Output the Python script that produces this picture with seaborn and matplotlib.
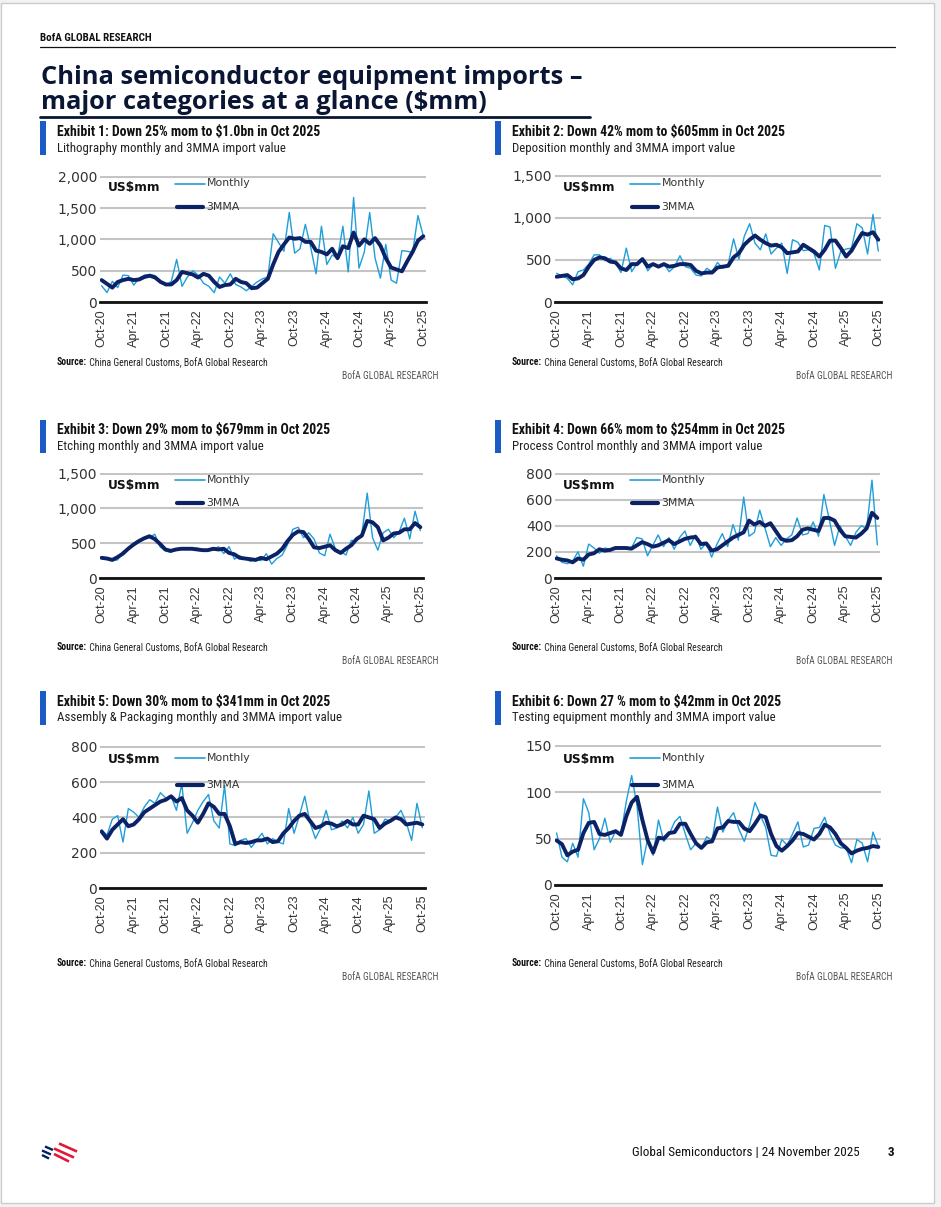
import numpy as np
import pandas as pd
import matplotlib
matplotlib.use("Agg")
import matplotlib.pyplot as plt
import seaborn as sns
from matplotlib import font_manager as fm
from matplotlib.patches import Rectangle
from matplotlib.lines import Line2D

# ---------------- data ----------------
months = [d.strftime("%b-%y") for d in pd.date_range("2020-10-01", periods=61, freq="MS")]
tick_labels = ["Oct-20", "Apr-21", "Oct-21", "Apr-22", "Oct-22", "Apr-23",
               "Oct-23", "Apr-24", "Oct-24", "Apr-25", "Oct-25"]

litho_monthly = [260, 150, 330, 230, 430, 420, 270, 380, 430, 440,
                 420, 330, 260, 330, 680, 250, 400, 500, 430, 300,
                 250, 150, 400, 300, 450, 280, 240, 180, 250, 320,
                 370, 400, 1090, 950, 810, 1430, 780, 850, 1240, 870,
                 450, 1210, 600, 750, 700, 1210, 480, 1670, 540, 800,
                 1430, 700, 380, 920, 350, 300, 820, 810, 790, 1380, 1050]
litho_3mma = [350, 290, 230, 320, 350, 370, 350, 360, 400, 420,
              390, 320, 280, 280, 350, 480, 460, 440, 390, 450,
              420, 320, 240, 270, 280, 370, 320, 300, 220, 230,
              300, 370, 600, 800, 920, 1030, 1010, 1020, 960, 960,
              820, 800, 760, 850, 700, 890, 860, 1110, 900, 1000,
              930, 1020, 900, 700, 550, 520, 490, 650, 800, 980, 1050]

dep_monthly = [340, 310, 280, 205, 360, 380, 450, 560, 560, 490,
               520, 460, 350, 640, 360, 460, 510, 370, 450, 420,
               450, 360, 420, 550, 420, 400, 320, 310, 400, 360,
               470, 400, 450, 750, 510, 780, 930, 700, 620, 810,
               570, 640, 700, 340, 740, 710, 610, 620, 580, 380,
               910, 890, 400, 600, 630, 640, 930, 880, 570, 1040, 605]
dep_3mma = [300, 310, 320, 270, 280, 320, 420, 500, 530, 520,
            480, 470, 400, 380, 450, 450, 510, 420, 450, 420,
            450, 420, 430, 450, 450, 440, 370, 340, 350, 350,
            410, 420, 430, 530, 580, 680, 740, 790, 740, 700,
            670, 680, 650, 580, 590, 600, 680, 640, 600, 540,
            620, 730, 730, 640, 540, 610, 720, 820, 800, 830, 740]

etch_monthly = [280, 280, 250, 260, 380, 420, 460, 520, 570, 580,
                630, 450, 390, 370, 400, 430, 410, 420, 430, 400,
                400, 400, 450, 350, 450, 270, 320, 280, 240, 270,
                250, 350, 200, 280, 330, 480, 700, 730, 580, 650,
                560, 360, 320, 630, 420, 380, 330, 540, 530, 640,
                1220, 580, 400, 650, 700, 580, 660, 860, 560, 960, 679]
etch_3mma = [290, 280, 260, 300, 350, 420, 480, 530, 570, 600,
             560, 490, 410, 390, 410, 420, 420, 420, 410, 400,
             400, 420, 410, 420, 360, 340, 290, 280, 270, 260,
             290, 270, 310, 350, 420, 530, 620, 670, 660, 560,
             440, 430, 450, 470, 400, 360, 420, 470, 560, 610,
             820, 800, 730, 540, 580, 640, 650, 700, 700, 790, 730]

pc_monthly = [170, 120, 110, 130, 200, 90, 260, 230, 190, 230,
              220, 230, 240, 230, 230, 310, 300, 170, 250, 330,
              240, 310, 220, 310, 360, 250, 330, 220, 270, 160,
              260, 340, 240, 410, 290, 620, 320, 350, 520, 380,
              240, 310, 250, 300, 330, 460, 330, 340, 430, 320,
              640, 450, 250, 400, 320, 250, 350, 400, 380, 750, 254]
pc_3mma = [150, 140, 135, 120, 150, 140, 180, 190, 220, 210,
           215, 230, 230, 230, 225, 250, 275, 260, 240, 250,
           270, 290, 260, 280, 300, 310, 315, 260, 265, 210,
           220, 250, 280, 310, 330, 350, 440, 410, 430, 400,
           420, 360, 300, 285, 290, 320, 370, 380, 370, 360,
           460, 460, 440, 370, 320, 315, 310, 340, 380, 500, 460]

ap_monthly = [330, 300, 390, 410, 260, 450, 430, 400, 460, 500,
              480, 540, 510, 520, 440, 590, 310, 370, 440, 490,
              530, 380, 340, 580, 250, 240, 270, 280, 230, 270,
              310, 250, 280, 260, 250, 450, 310, 410, 520, 370,
              280, 340, 440, 330, 340, 380, 340, 400, 310, 360,
              550, 310, 330, 390, 380, 400, 440, 370, 270, 480, 341]
ap_3mma = [320, 280, 330, 360, 390, 350, 360, 390, 430, 450,
           470, 490, 500, 520, 490, 510, 440, 410, 370, 420,
           480, 460, 420, 420, 350, 250, 260, 255, 260, 270,
           270, 280, 260, 265, 310, 340, 380, 410, 420, 380,
           340, 350, 370, 365, 350, 360, 380, 360, 360, 410,
           400, 390, 340, 365, 380, 400, 390, 360, 365, 370, 360]

test_monthly = [56, 30, 25, 45, 30, 93, 78, 38, 50, 72,
                46, 58, 55, 90, 118, 85, 22, 50, 32, 70,
                47, 55, 68, 74, 55, 38, 45, 40, 52, 48,
                84, 57, 70, 78, 60, 47, 65, 89, 75, 62,
                32, 31, 49, 43, 55, 68, 41, 43, 61, 62,
                73, 55, 43, 40, 40, 24, 49, 45, 25, 57, 42]
test_3mma = [48, 44, 32, 36, 38, 56, 67, 68, 55, 54,
             56, 58, 54, 74, 89, 95, 70, 48, 35, 51,
             50, 56, 57, 66, 66, 55, 45, 40, 46, 47,
             61, 62, 69, 68, 68, 61, 58, 66, 75, 73,
             55, 42, 37, 42, 48, 56, 55, 52, 49, 55,
             65, 62, 55, 45, 40, 34, 37, 39, 40, 42, 41]

exhibit_titles = ["Exhibit 1: Down 25% mom to $1.0bn in Oct 2025",
                  "Exhibit 2: Down 42% mom to $605mm in Oct 2025",
                  "Exhibit 3: Down 29% mom to $679mm in Oct 2025",
                  "Exhibit 4: Down 66% mom to $254mm in Oct 2025",
                  "Exhibit 5: Down 30% mom to $341mm in Oct 2025",
                  "Exhibit 6: Down 27 % mom to $42mm in Oct 2025"]
exhibit_subs = ["Lithography monthly and 3MMA import value",
                "Deposition monthly and 3MMA import value",
                "Etching monthly and 3MMA import value",
                "Process Control monthly and 3MMA import value",
                "Assembly & Packaging monthly and 3MMA import value",
                "Testing equipment monthly and 3MMA import value"]
y_max = [2000, 1500, 1500, 800, 800, 150]
y_step = [500, 500, 500, 200, 200, 50]
series_monthly = [litho_monthly, dep_monthly, etch_monthly, pc_monthly, ap_monthly, test_monthly]
series_3mma = [litho_3mma, dep_3mma, etch_3mma, pc_3mma, ap_3mma, test_3mma]

# ---------------- style ----------------
sns.set_theme(style="white")
names = {f.name for f in fm.fontManager.ttflist}
narrow_name = next((n for n in ["Liberation Sans Narrow", "DejaVu Sans Condensed",
                                "Roboto Condensed", "Open Sans Condensed"] if n in names), None)
if narrow_name:
    NAR = dict(family=narrow_name)
else:
    NAR = dict(family="DejaVu Sans", stretch="condensed")
TITLE_FAMILY = "Open Sans" if "Open Sans" in names else "DejaVu Sans"
plt.rcParams["font.family"] = ["DejaVu Sans"]

W, H = 941, 1207
fig = plt.figure(figsize=(W / 100, H / 100), dpi=100, facecolor="#f2f2f2")
R = fig.canvas.get_renderer()


def fx(x):
    return x / W


def fy(y):
    return 1 - y / H


def txt(x, y, s, **kw):
    kw.setdefault("va", "center")
    return fig.text(fx(x), fy(y), s, **kw)


def fit(t, width):
    w = t.get_window_extent(R).width
    t.set_fontsize(t.get_fontsize() * width / w)
    return t.get_fontsize()


def seg(x0, y0, x1, y1, **kw):
    fig.add_artist(Line2D([fx(x0), fx(x1)], [fy(y0), fy(y1)], transform=fig.transFigure, **kw))


def hline(x0, x1, y, **kw):
    seg(x0, y, x1, y, **kw)


# page
fig.add_artist(Rectangle((fx(1), fy(1203)), (934 - 1) / W, (1203 - 3) / H, transform=fig.transFigure,
                         facecolor="white", edgecolor="#cccccc", lw=1.0, zorder=-10))

# header
t = txt(40, 38, "BofA GLOBAL RESEARCH", fontweight="bold", color="#111111", fontsize=6, **NAR)
fit(t, 112)
hline(40, 895, 47, color="#111111", lw=0.9)
TITLE_C = "#0a1633"
t1 = txt(41, 84.5, "China semiconductor equipment imports \u2013", fontweight="bold", color=TITLE_C,
         fontsize=17, family=TITLE_FAMILY, va="baseline")
s = fit(t1, 542)
txt(41, 109, "major categories at a glance ($mm)", fontweight="bold", color=TITLE_C, fontsize=s,
    family=TITLE_FAMILY, va="baseline")
hline(40, 590, 117, color=TITLE_C, lw=2.0)

# panel geometry
col_dx = [0, 455]
rows = [
    dict(bar=(121, 155), title=131.5, sub=148.5, ax=[(176, 302), (175, 302)], usmm=188, mon=183.5, mma=207,
         src=362.5, bofa=376),
    dict(bar=(420, 453), title=430.5, sub=446.5, ax=[(473, 578), (473, 578)], usmm=485, mon=480.5, mma=502.5,
         src=647.5, bofa=661),
    dict(bar=(691, 725), title=701.5, sub=718, ax=[(746, 888), (745, 885)], usmm=760, mon=758, mma=785,
         src=963.5, bofa=977),
]
ax_x = [[(100, 426), (555, 881)], [(100, 423), (555, 880)], [(100, 425), (555, 881)]]

MONTHLY_C = "#1f9ed9"
MMA_C = "#0b2266"
BAR_C = "#1a5cc4"

title_size = None
sub_size = None
src_size = None
bofa_size = None
usmm_size = None
leg_size = None

for k in range(6):
    r, c = divmod(k, 2)
    g = rows[r]
    dx = col_dx[c]
    b0, b1 = g["bar"]
    fig.add_artist(Rectangle((fx(40 + dx), fy(b1)), 6 / W, (b1 - b0) / H, transform=fig.transFigure,
                             facecolor=BAR_C, edgecolor="none"))
    tt = txt(57 + dx, g["title"], exhibit_titles[k], fontweight="bold", color="#111111", fontsize=9, **NAR)
    if title_size is None:
        title_size = fit(tt, 263)
    tt.set_fontsize(title_size)
    st = txt(57 + dx, g["sub"], exhibit_subs[k], color="#222222", fontsize=9, **NAR)
    if sub_size is None:
        sub_size = fit(st, 228)
    st.set_fontsize(sub_size)

    y0, y1 = g["ax"][c]
    x0, x1 = ax_x[r][c]
    ax = fig.add_axes([fx(x0), fy(y1), (x1 - x0) / W, (y1 - y0) / H])
    idx = np.arange(len(months))
    sns.lineplot(x=idx, y=np.array(series_monthly[k]), ax=ax, color=MONTHLY_C, linewidth=1.0, legend=False)
    sns.lineplot(x=idx, y=np.array(series_3mma[k]), ax=ax, color=MMA_C, linewidth=2.8, legend=False,
                 solid_capstyle="round", solid_joinstyle="round")
    ax.set_xlim(-0.3, 60.5)
    ax.set_ylim(0, y_max[k] * 1.006)
    yt = np.arange(0, y_max[k] + 1, y_step[k])
    ax.set_yticks(yt)
    ax.set_yticklabels([f"{v:,}" for v in yt], fontsize=10, color="#333333")
    ax.set_xticks(np.arange(0, 61, 6))
    ax.set_xticklabels(tick_labels, rotation=90, fontsize=9, color="#333333", family="Liberation Sans")
    ax.tick_params(axis="y", length=0, pad=2)
    ax.tick_params(axis="x", length=0, pad=5)
    ax.grid(axis="y", color="#c4c4c4", linewidth=1.5)
    ax.grid(axis="x", visible=False)
    for sp in ["left", "right", "top"]:
        ax.spines[sp].set_visible(False)
    ax.spines["bottom"].set_color("#111111")
    ax.spines["bottom"].set_linewidth(2.0)
    ax.set_xlabel("")
    ax.set_ylabel("")
    ax.set_facecolor("white")

    ut = txt(108 + dx, g["usmm"], "US$mm", fontweight="bold", color="#111111", fontsize=9, zorder=6)
    if usmm_size is None:
        usmm_size = fit(ut, 53)
    ut.set_fontsize(usmm_size)
    hline(175 + dx, 205 + dx, g["mon"], color=MONTHLY_C, lw=1.2, zorder=6)
    mt = txt(207 + dx, g["mon"], "Monthly", color="#333333", fontsize=8, zorder=6)
    if leg_size is None:
        leg_size = fit(mt, 44)
    mt.set_fontsize(leg_size)
    hline(177 + dx, 203 + dx, g["mma"], color=MMA_C, lw=3.0, zorder=6, solid_capstyle="round")
    txt(206 + dx, g["mma"], "3MMA", color="#333333", fontsize=leg_size, zorder=6)

    s1 = txt(57 + dx, g["src"], "Source:", fontweight="bold", color="#111111", fontsize=6, **NAR)
    s2 = txt(57 + dx, g["src"], " China General Customs, BofA Global Research", color="#222222", fontsize=6, **NAR)
    if src_size is None:
        wtot = s1.get_window_extent(R).width + s2.get_window_extent(R).width
        src_size = 6 * 209 / wtot
    s1.set_fontsize(src_size)
    s2.set_fontsize(src_size)
    w1 = s1.get_window_extent(R).width
    s2.set_x(fx(57 + dx + w1))
    bt = txt(438 + dx, g["bofa"], "BofA GLOBAL RESEARCH", ha="right", color="#555555", fontsize=6, **NAR)
    if bofa_size is None:
        bofa_size = fit(bt, 97)
    bt.set_fontsize(bofa_size)

# footer
ft = txt(860, 1152, "Global Semiconductors | 24 November 2025", ha="right", color="#111111", fontsize=8, **NAR)
fit(ft, 228)
txt(888, 1152, "3", fontweight="bold", color="#111111", fontsize=ft.get_fontsize(), **NAR)

# BofA flag logo (stripes)
RED = "#e31837"
BLUE = "#012169"
for (a, b, c_, d) in [(59, 1143.5, 77, 1151.5), (54, 1148.5, 74, 1157.5), (54, 1154, 69, 1161.5)]:
    seg(a, b, c_, d, color=RED, lw=1.9, solid_capstyle="butt")
for (a, b, c_, d) in [(45, 1146.5, 53, 1150), (42, 1150.5, 51, 1154.5), (42, 1155, 49, 1158.5)]:
    seg(a, b, c_, d, color=BLUE, lw=1.7, solid_capstyle="butt")

fig.savefig("out.png", dpi=100, facecolor=fig.get_facecolor())
